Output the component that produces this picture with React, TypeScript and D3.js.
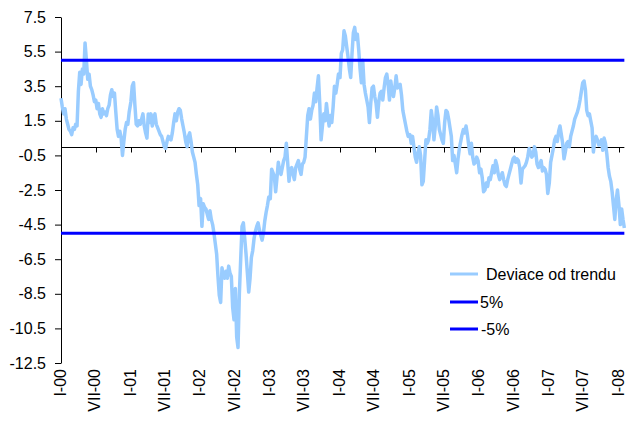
import React, { useRef, useEffect } from 'react';
import * as d3 from 'd3';

// weekly readings of the deviation from trend, one array per year (first value = 1 Jan)
const dev2000 = [2.8, 2.3, 1.9, 2.2, 1.6, 1.3, 1.0, 0.9, 0.7, 1.1, 1.0, 1.3, 1.2, 3.2, 4.3, 3.6, 4.5, 4.2, 6.0, 5.0, 3.9, 4.2, 3.5, 3.3, 3.0, 2.6, 2.7, 2.2, 2.5, 1.9, 1.7, 2.2, 1.9, 2.0, 1.8, 2.2, 2.4, 3.0, 3.3, 2.9, 3.1, 2.0, 1.0, 0.6, 0.9, 0.5, -0.5, 0.3, 1.0, 1.4, 1.3, 2.0];
const dev2001 = [2.6, 3.5, 3.7, 2.4, 1.3, 1.2, 1.5, 1.3, 1.6, 1.9, 1.2, 0.8, 0.5, 1.9, 1.4, 1.9, 1.2, 1.7, 1.9, 1.3, 1.1, 0.9, 0.7, 0.6, 0.3, 0.0, -0.1, 0.3, 0.6, 0.5, 0.4, 0.8, 1.4, 1.9, 1.5, 2.0, 2.2, 2.1, 1.6, 1.2, 0.8, 0.3, 0.0, 0.6, 0.8, 0.3, -0.3, -0.6, -0.9, -1.6, -2.2, -3.4];
const dev2002 = [-3.0, -4.6, -3.3, -3.5, -3.6, -3.9, -4.2, -3.7, -4.2, -4.5, -5.0, -5.6, -6.2, -7.5, -8.6, -9.0, -7.0, -7.4, -7.6, -7.2, -7.6, -6.9, -7.3, -7.5, -9.3, -10.0, -8.2, -11.0, -11.6, -8.5, -6.5, -4.6, -4.4, -5.3, -6.2, -7.3, -8.4, -7.6, -6.4, -6.0, -5.3, -4.9, -4.6, -4.4, -4.8, -5.1, -5.4, -5.0, -4.3, -3.8, -3.4, -2.9];
const dev2003 = [-3.0, -1.3, -1.5, -1.7, -2.6, -1.8, -0.9, -1.4, -1.6, -1.2, -0.8, -0.6, 0.2, -0.9, -2.0, -1.3, -1.2, -1.6, -1.9, -1.2, -1.0, -0.8, -1.3, -1.6, -1.0, -0.9, -0.6, 0.6, 1.8, 2.2, 1.6, 2.1, 2.4, 3.1, 2.6, 3.4, 4.1, 2.5, 0.4, 1.2, 1.9, 1.5, 2.5, 1.8, 1.2, 1.8, 1.4, 2.3, 3.5, 3.1, 3.6, 4.2];
const dev2004 = [4.0, 5.4, 5.6, 6.7, 6.4, 5.8, 5.2, 4.5, 4.0, 5.4, 6.6, 6.9, 6.2, 6.5, 5.6, 4.5, 3.7, 5.0, 3.6, 3.1, 2.7, 2.3, 1.4, 2.5, 3.4, 3.5, 2.9, 2.5, 1.7, 2.6, 3.1, 3.2, 2.7, 3.4, 4.0, 4.2, 3.6, 2.7, 3.8, 3.2, 2.9, 3.4, 4.1, 3.4, 3.5, 3.6, 3.0, 2.1, 1.7, 1.3, 0.9, 0.6];
const dev2005 = [0.7, 0.2, 0.6, 0.0, -0.6, -0.9, -0.4, 0.0, -0.5, -2.2, -2.0, -0.8, 0.4, 0.2, 0.4, 1.0, 2.1, 1.5, 0.4, 1.2, 2.3, 1.8, 1.0, 0.7, 0.4, 0.2, 1.4, 2.1, 2.0, 1.6, 1.1, 0.6, -0.8, -0.5, -1.0, -1.5, -0.7, -0.1, 0.3, 0.7, 1.0, 0.8, 1.2, 0.7, 0.1, -0.4, 0.2, -0.6, -1.0, -0.9, -0.6, -0.8];
const dev2006 = [-1.5, -1.3, -1.8, -2.6, -2.5, -2.1, -2.3, -1.8, -1.9, -1.5, -1.1, -1.5, -0.8, -1.1, -1.6, -1.9, -1.7, -1.5, -1.9, -2.2, -2.3, -1.9, -1.6, -1.3, -1.0, -0.7, -0.6, -0.9, -0.7, -0.8, -1.2, -2.1, -1.3, -1.2, -1.1, -0.9, -0.6, -0.1, -0.3, -0.6, -0.5, 0.0, -0.3, -1.0, -1.2, -1.0, -0.8, -1.4, -1.2, -1.3, -1.6, -2.7];
const dev2007 = [-2.1, -0.9, -0.5, -0.1, 0.4, 0.6, 0.3, 0.9, 1.2, 0.7, 0.2, -0.7, -0.3, 0.2, 0.3, 0.0, 0.6, 0.9, 1.2, 1.6, 1.8, 2.0, 2.3, 2.7, 3.2, 3.7, 3.8, 3.3, 2.1, 1.8, 1.9, 1.5, 1.1, -0.3, 0.4, 0.6, 0.4, 0.1, 0.2, 0.4, -0.2, 0.5, 0.2, -0.4, -1.2, -1.7, -2.0, -2.6, -3.4, -4.2, -3.1, -2.5];
const dev2008 = [-3.4, -4.5, -3.6, -4.2, -4.7];

const years = [2000, 2001, 2002, 2003, 2004, 2005, 2006, 2007, 2008];
const yearly = [dev2000, dev2001, dev2002, dev2003, dev2004, dev2005, dev2006, dev2007, dev2008];

const bandLevels = [5, -5];
const legendLabels = ['Deviace od trendu', '5%', '-5%'];
const yTicks = [7.5, 5.5, 3.5, 1.5, -0.5, -2.5, -4.5, -6.5, -8.5, -10.5, -12.5];
const xTickLabels = ['I-00', 'VII-00', 'I-01', 'VII-01', 'I-02', 'VII-02', 'I-03', 'VII-03', 'I-04', 'VII-04', 'I-05', 'VII-05', 'I-06', 'VII-06', 'I-07', 'VII-07', 'I-08'];

const LIGHT = '#99ccff';
const BLUE = '#0000ff';
const FONT = 'Arial, "Liberation Sans", sans-serif';

const App = () => {
  const ref = useRef(null);

  useEffect(() => {
    const svg = d3.select(ref.current);
    svg.selectAll('*').remove();

    const data = years.flatMap((yr, i) =>
      yearly[i].map((v, k) => ({ date: new Date(yr, 0, 1 + 7 * k), v }))
    );
    const lastDate = data[data.length - 1].date;

    const x = d3.scaleTime()
      .domain([new Date(2000, 0, 1), new Date(2008, 0, 1)])
      .range([61, 619]);
    const y = d3.scaleLinear().domain([-12.5, 7.5]).range([363, 17]);

    // Y axis
    const yAxis = svg.append('g')
      .attr('transform', 'translate(61,0)')
      .call(d3.axisLeft(y).tickValues(yTicks).tickSize(6).tickSizeOuter(0).tickPadding(9)
        .tickFormat(d => d.toFixed(1)));
    yAxis.select('.domain').attr('stroke', '#000');
    yAxis.selectAll('.tick line').attr('stroke', '#000');
    yAxis.selectAll('text')
      .attr('fill', '#000')
      .style('font-family', FONT)
      .style('font-size', '16px');

    // X axis at zero, labels at the bottom
    const xTicks = d3.timeMonth.every(6).range(new Date(2000, 0, 1), new Date(2008, 0, 2));
    const y0 = Math.round(y(0)) + 0.5;
    svg.append('line')
      .attr('x1', 61).attr('x2', x(lastDate))
      .attr('y1', y0).attr('y2', y0)
      .attr('stroke', '#000');
    svg.append('g').selectAll('line')
      .data(xTicks)
      .join('line')
      .attr('x1', d => Math.round(x(d)) + 0.5).attr('x2', d => Math.round(x(d)) + 0.5)
      .attr('y1', y0).attr('y2', y0 + 5)
      .attr('stroke', '#000');
    svg.append('g').selectAll('text')
      .data(xTicks)
      .join('text')
      .attr('transform', d => `translate(${x(d) - 1},369) rotate(-90)`)
      .attr('text-anchor', 'end')
      .attr('dy', '0.35em')
      .attr('fill', '#000')
      .style('font-family', FONT)
      .style('font-size', '16px')
      .text((d, i) => xTickLabels[i]);

    // Deviation series
    const line = d3.line()
      .x(d => x(d.date))
      .y(d => y(d.v));
    svg.append('path')
      .datum(data)
      .attr('fill', 'none')
      .attr('stroke', LIGHT)
      .attr('stroke-width', 3.5)
      .attr('stroke-linejoin', 'round')
      .attr('d', line);

    // 5% / -5% bands
    svg.append('g').selectAll('line')
      .data(bandLevels)
      .join('line')
      .attr('x1', 61).attr('x2', x(lastDate))
      .attr('y1', d => y(d)).attr('y2', d => y(d))
      .attr('stroke', BLUE)
      .attr('stroke-width', 3);

    // Legend
    const legend = svg.append('g');
    const rows = [
      { label: legendLabels[0], color: LIGHT, ty: 274, tx: 486 },
      { label: legendLabels[1], color: BLUE, ty: 302, tx: 480 },
      { label: legendLabels[2], color: BLUE, ty: 329, tx: 481 },
    ];
    rows.forEach(r => {
      legend.append('line')
        .attr('x1', 450).attr('x2', 478)
        .attr('y1', r.ty).attr('y2', r.ty)
        .attr('stroke', r.color)
        .attr('stroke-width', 3);
      legend.append('text')
        .attr('x', r.tx).attr('y', r.ty)
        .attr('dy', '0.35em')
        .attr('fill', '#000')
        .style('font-family', FONT)
        .style('font-size', '16px')
        .text(r.label);
    });
  }, []);

  return (
    <div>
      <style>{'body{margin:0}'}</style>
      <svg ref={ref} width={626} height={421} style={{ display: 'block', background: '#fff' }} />
    </div>
  );
};

export default App;
